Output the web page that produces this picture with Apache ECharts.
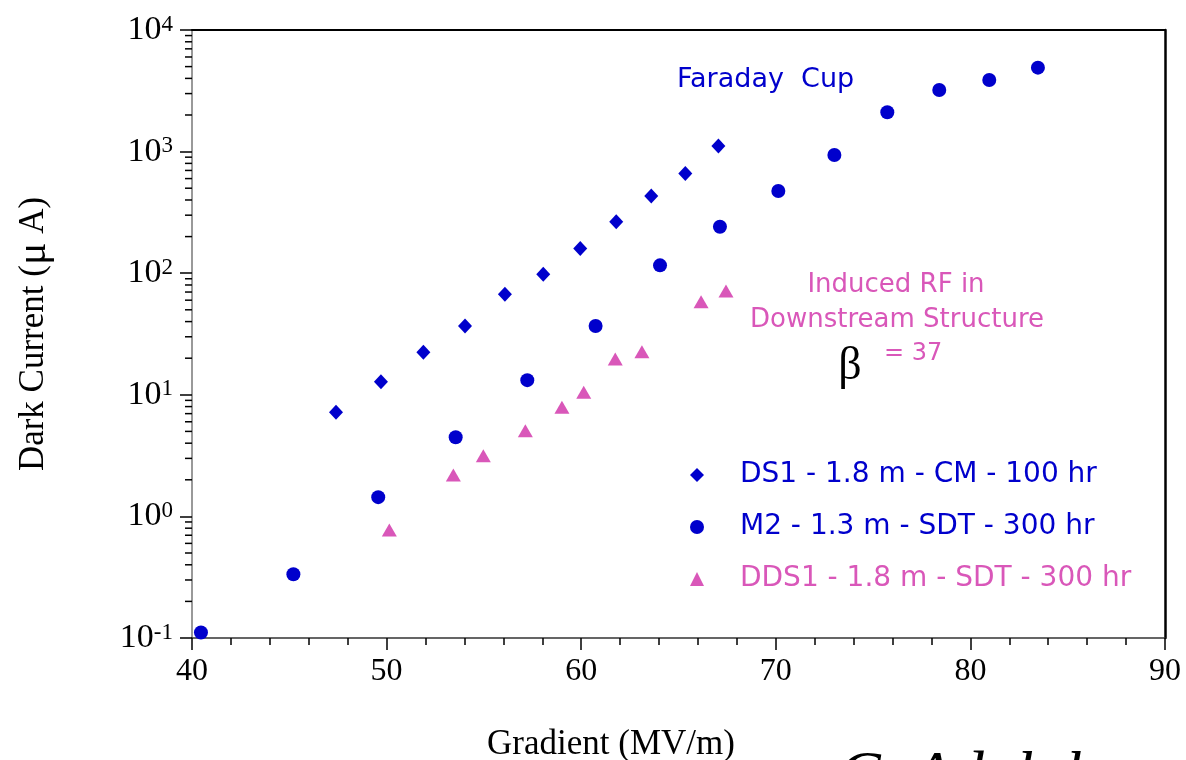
<!DOCTYPE html>
<html>
<head>
    <meta charset="utf-8">
    <title>Dark Current vs Gradient</title>
    <script src="https://cdn.jsdelivr.net/npm/echarts@6/dist/echarts.min.js"></script>
</head>
<body style="margin:0">
    <div id="main" style="width:1186px;height:760px"></div>
    <script type="text/javascript">
        // data
        var ds1X = [47.40, 49.71, 51.89, 54.03, 56.08, 58.05, 59.95, 61.80, 63.60, 65.35, 67.05];
        var ds1Y = [7.2, 12.8, 22.4, 36.8, 67, 98, 160, 265, 431, 659, 1112];

        var m2X = [40.46, 45.21, 49.57, 53.55, 57.23, 60.74, 64.05, 67.13, 70.13, 73.01, 75.73, 78.40, 80.97, 83.47];
        var m2Y = [0.111, 0.334, 1.44, 4.47, 13.2, 36.8, 116, 241, 474, 938, 2105, 3210, 3880, 4900];

        var dds1X = [50.14, 53.43, 54.97, 57.13, 59.01, 60.13, 61.75, 63.12, 66.16, 67.44];
        var dds1Y = [0.773, 2.19, 3.16, 5.07, 7.89, 10.5, 19.7, 22.6, 58.3, 71.4];

        var seriesNames = ['DS1 - 1.8 m - CM - 100 hr', 'M2 - 1.3 m - SDT - 300 hr', 'DDS1 - 1.8 m - SDT - 300 hr'];

        var BLUE = '#0000cc';
        var PINK = '#d957b9';

        function zip(xs, ys) {
            return xs.map(function (x, i) { return [x, ys[i]]; });
        }

        // minor ticks of the log axis (2..9 in each decade)
        var minorTickVals = [];
        [0.1, 1, 10, 100, 1000].forEach(function (d) {
            for (var k = 2; k <= 9; k++) minorTickVals.push([40, d * k]);
        });

        var chart = echarts.init(document.getElementById('main'));
        chart.setOption({
            backgroundColor: '#fff',
            animation: false,
            grid: { left: 192, right: 21, top: 30, bottom: 122 },
            legend: {
                orient: 'vertical',
                left: 685,
                top: 456,
                itemWidth: 14,
                itemHeight: 14,
                itemGap: 24,
                textStyle: { fontFamily: 'DejaVu Sans', fontSize: 28, lineHeight: 28, padding: [0, 0, 0, 31] },
                data: [
                    { name: seriesNames[0], textStyle: { color: BLUE } },
                    { name: seriesNames[1], textStyle: { color: BLUE } },
                    { name: seriesNames[2], textStyle: { color: PINK } }
                ]
            },
            xAxis: [{
                type: 'value',
                min: 40, max: 90, interval: 10,
                axisLine: { lineStyle: { color: '#333', width: 1.5 } },
                axisTick: { length: 12, lineStyle: { color: '#000', width: 1.5 } },
                minorTick: { show: true, splitNumber: 5, length: 7, lineStyle: { color: '#000', width: 1.5 } },
                splitLine: { show: false },
                axisLabel: { margin: 18, color: '#000', fontFamily: 'Liberation Serif', fontSize: 32 }
            }, {
                type: 'value', position: 'top',
                min: 40, max: 90,
                axisLine: { show: true, lineStyle: { color: '#000', width: 2 } },
                axisTick: { show: false }, axisLabel: { show: false }, splitLine: { show: false }
            }],
            yAxis: [{
                type: 'log', logBase: 10,
                min: 0.1, max: 10000,
                name: '{t|Dark Current (}{m|μ}{t| A)}',
                nameLocation: 'middle',
                nameGap: 137,
                nameTextStyle: {
                    rich: {
                        t: { fontFamily: 'Liberation Serif', fontSize: 35, color: '#000' },
                        m: { fontFamily: 'Liberation Serif', fontSize: 42, color: '#000' }
                    }
                },
                axisLine: { show: true, lineStyle: { color: '#777', width: 1.5 } },
                axisTick: { length: 12, lineStyle: { color: '#000', width: 1.5 } },
                splitLine: { show: false },
                axisLabel: {
                    margin: 19,
                    formatter: function (v) {
                        var e = Math.round(Math.log10(v));
                        return '{b|10}{s|' + e + '}';
                    },
                    rich: {
                        b: { fontFamily: 'Liberation Serif', fontSize: 34, color: '#000', lineHeight: 34 },
                        s: { fontFamily: 'Liberation Serif', fontSize: 23, color: '#000', lineHeight: 20, verticalAlign: 'top' }
                    }
                }
            }, {
                type: 'log', logBase: 10, position: 'right',
                min: 0.1, max: 10000,
                axisLine: { show: true, lineStyle: { color: '#000', width: 2.5 } },
                axisTick: { show: false }, axisLabel: { show: false }, splitLine: { show: false }
            }],
            series: [{
                name: seriesNames[0],
                type: 'scatter',
                symbol: 'diamond',
                symbolSize: [14, 15],
                itemStyle: { color: BLUE, opacity: 1 },
                data: zip(ds1X, ds1Y)
            }, {
                name: seriesNames[1],
                type: 'scatter',
                symbol: 'circle',
                symbolSize: 14,
                itemStyle: { color: BLUE, opacity: 1 },
                data: zip(m2X, m2Y)
            }, {
                name: seriesNames[2],
                type: 'scatter',
                symbol: 'triangle',
                symbolSize: [15, 13],
                itemStyle: { color: PINK, opacity: 1 },
                data: zip(dds1X, dds1Y)
            }, {
                type: 'custom',
                clip: false,
                silent: true,
                renderItem: function (params, api) {
                    var p = api.coord([api.value(0), api.value(1)]);
                    return {
                        type: 'line',
                        shape: { x1: p[0] - 7, y1: p[1], x2: p[0], y2: p[1] },
                        style: { stroke: '#000', lineWidth: 1.5 }
                    };
                },
                data: minorTickVals
            }],
            graphic: [
                { type: 'text', x: 677, y: 80, style: { text: 'Faraday  Cup', font: '27px "DejaVu Sans"', fill: BLUE, verticalAlign: 'middle' } },
                { type: 'text', x: 896, y: 285, style: { text: 'Induced RF in', font: '26px "DejaVu Sans"', fill: PINK, align: 'center', verticalAlign: 'middle' } },
                { type: 'text', x: 897, y: 320, style: { text: 'Downstream Structure', font: '26px "DejaVu Sans"', fill: PINK, align: 'center', verticalAlign: 'middle' } },
                { type: 'text', x: 850, y: 367, style: { text: 'β', font: '46px "Liberation Serif"', fill: '#000', align: 'center', verticalAlign: 'middle' } },
                { type: 'text', x: 884, y: 354, style: { text: '= 37', font: '24px "DejaVu Sans"', fill: PINK, verticalAlign: 'middle' } },
                { type: 'text', x: 611, y: 727, style: { text: 'Gradient (MV/m)', font: '35px "Liberation Serif"', fill: '#000', align: 'center', verticalAlign: 'top' } },
                { type: 'text', x: 838, y: 746, style: { text: 'C. Adolphsen', font: 'italic 64px "Liberation Serif"', fill: '#000', verticalAlign: 'top' } }
            ]
        });
    </script>
</body>
</html>
